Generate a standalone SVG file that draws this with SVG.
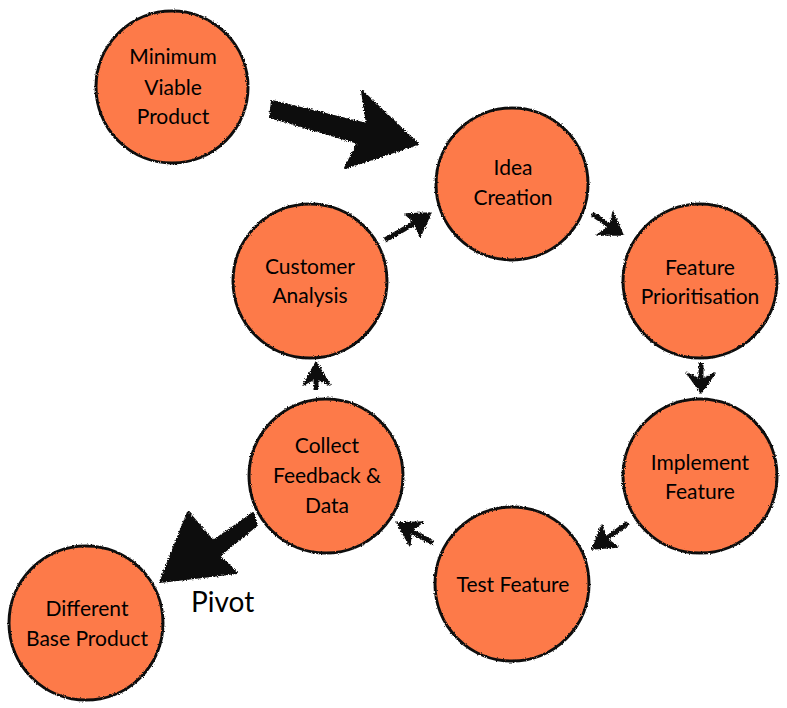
<svg xmlns="http://www.w3.org/2000/svg" width="787" height="708" viewBox="0 0 787 708">
<defs>
<filter id="rough" x="-10%" y="-10%" width="120%" height="120%">
<feTurbulence type="fractalNoise" baseFrequency="0.9" numOctaves="2" seed="3" result="n"/>
<feDisplacementMap in="SourceGraphic" in2="n" scale="2.5" xChannelSelector="R" yChannelSelector="G"/>
</filter>
<filter id="rough2" x="-20%" y="-20%" width="140%" height="140%">
<feTurbulence type="fractalNoise" baseFrequency="0.7" numOctaves="2" seed="7" result="n"/>
<feDisplacementMap in="SourceGraphic" in2="n" scale="4" xChannelSelector="R" yChannelSelector="G"/>
</filter>
</defs>
<style>
.node circle{fill:#FD7A48;stroke:#111;stroke-width:3;filter:url(#rough)}
.node text{font-family:"Lato","Open Sans",sans-serif;font-size:21px;fill:#000;text-anchor:middle}
.shaft{stroke:#111;stroke-width:5;stroke-linecap:butt;fill:none}
.head{fill:#111;stroke:#111;stroke-width:1.5;stroke-linejoin:round}
.big{fill:#111;stroke:#111;stroke-width:2;stroke-linejoin:round}
.lbl{font-family:"Lato","Open Sans",sans-serif;font-size:28px;fill:#000}
</style>
<rect width="787" height="708" fill="#fff"/>
<g id="connectors" filter="url(#rough2)">
<polygon class="big" points="272,101 367,124 362,91 418,144 345,168 358,143 270,117"/>
<polygon class="big" points="253,513 213,541 188,512 160,582 237,573 219,556 257,525"/>
<line class="shaft" x1="385" y1="240" x2="420" y2="220"/>
<polygon class="head" points="431,213 405,214 414,222 420,237"/>
<line class="shaft" x1="592" y1="214" x2="613" y2="228"/>
<polygon class="head" points="623,235 613,212 610,226 597,235"/>
<line class="shaft" x1="701" y1="363" x2="701" y2="383"/>
<polygon class="head" points="701,393 687,373 701,380 715,373"/>
<line class="shaft" x1="628" y1="523" x2="603" y2="541"/>
<polygon class="head" points="592,549 602,525 606,538 618,547"/>
<line class="shaft" x1="433" y1="543" x2="407" y2="529"/>
<polygon class="head" points="397,523 423,522 411,531 410,546"/>
<line class="shaft" x1="316" y1="390" x2="316" y2="372"/>
<polygon class="head" points="316,362 303,385 316,378 330,385"/>
</g>
<text class="lbl" x="191" y="612">Pivot</text>
<g id="mvp" class="node"><circle cx="172" cy="87" r="76"/><text x="173" y="64">Minimum</text><text x="173" y="95">Viable</text><text x="173" y="124">Product</text></g>
<g id="idea" class="node"><circle cx="512" cy="184" r="76"/><text x="513" y="175">Idea</text><text x="513" y="205">Creation</text></g>
<g id="prioritisation" class="node"><circle cx="700" cy="281" r="77"/><text x="700" y="275">Feature</text><text x="700" y="304">Prioritisation</text></g>
<g id="implement" class="node"><circle cx="700" cy="476" r="77"/><text x="700" y="470">Implement</text><text x="700" y="499">Feature</text></g>
<g id="test" class="node"><circle cx="512" cy="584" r="77"/><text x="513" y="592">Test Feature</text></g>
<g id="collect" class="node"><circle cx="326" cy="476" r="77"/><text x="327" y="453">Collect</text><text x="327" y="483">Feedback &amp;</text><text x="327" y="513">Data</text></g>
<g id="customer" class="node"><circle cx="310" cy="281" r="77"/><text x="310" y="274">Customer</text><text x="310" y="303">Analysis</text></g>
<g id="different" class="node"><circle cx="86" cy="623" r="77"/><text x="87" y="616">Different</text><text x="87" y="646">Base Product</text></g>
</svg>
